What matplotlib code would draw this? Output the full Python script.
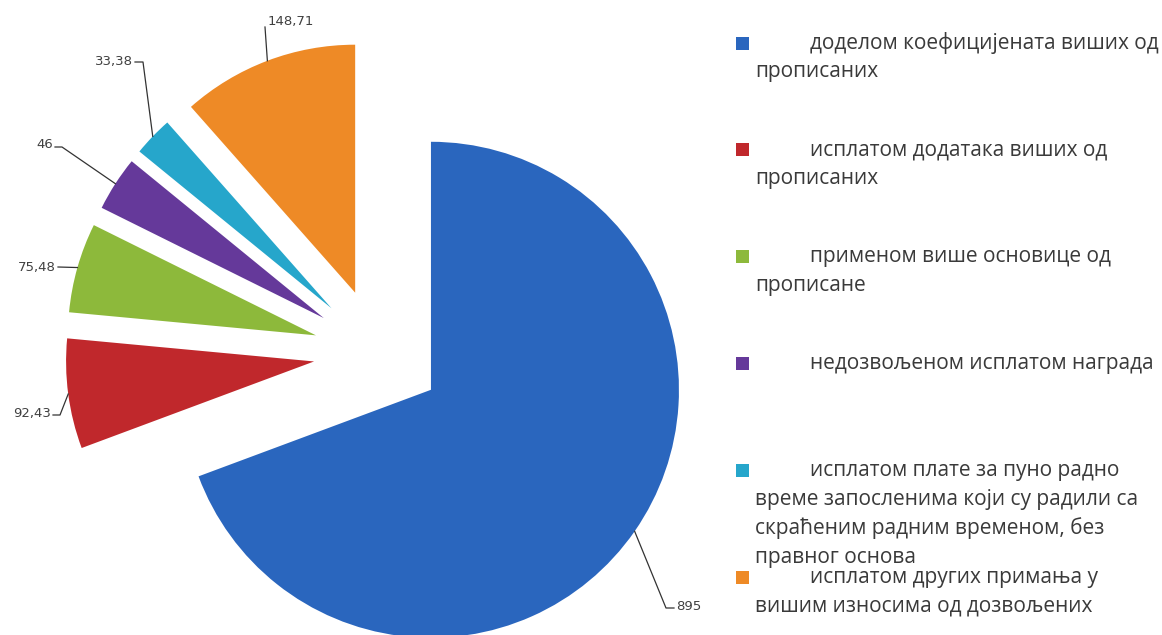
import matplotlib.pyplot as plt
from matplotlib.patches import Rectangle
import numpy as np

# vrednosti po vrstama nepravilnosti (redosled kao na slici, u smeru kazaljke)
vrednosti = [895, 92.43, 75.48, 46, 33.38, 148.71]
boje = ['#2a66be', '#c0282c', '#8db93b', '#65399a', '#26a6cb', '#ee8a26']
kategorije = [
    "доделом коефицијената виших од\nпрописаних",
    "исплатом додатака виших од\nпрописаних",
    "применом више основице од\nпрописане",
    "недозвољеном исплатом награда",
    "исплатом плате за пуно радно\nвреме запосленима који су радили са\nскраћеним радним временом, без\nправног основа",
    "исплатом других примања у\nвишим износима од дозвољених",
]

W, H = 1162, 635
fig = plt.figure(figsize=(W / 100, H / 100), dpi=100)
ax = fig.add_axes([0, 0, 1, 1])

# pita u "pikselskim" koordinatama, y ide odozdo
centar = (378, H - 353)
poluprecnik = 248
# explode je u apsolutnim jedinicama, ne u delovima poluprecnika
wedges, _ = ax.pie(vrednosti, colors=boje, startangle=90, counterclock=False,
                   explode=[0.26 * poluprecnik] * len(vrednosti), radius=poluprecnik,
                   center=centar, wedgeprops=dict(linewidth=0))
ax.set_xlim(0, W)
ax.set_ylim(0, H)
ax.set_aspect('equal')
ax.axis('off')

# krajevi linija za oznake (lakat, kraj linije, polozaj teksta) u pikselima
lakat = [(666, 608), (60, 415), (58, 267), (62, 147), (143, 62), (265, 27)]
kraj = [(674, 608), (53, 415), (58, 267), (55, 147), (135, 62), (265, 27)]
tekst_poz = [(676, 606, 'left'), (51, 414, 'right'), (56, 267, 'right'),
             (53, 145, 'right'), (133, 62, 'right'), (268, 22, 'left')]

for w, v, l, k, t in zip(wedges, vrednosti, lakat, kraj, tekst_poz):
    ugao = np.deg2rad((w.theta1 + w.theta2) / 2)
    x0 = w.center[0] + w.r * np.cos(ugao)
    y0 = w.center[1] + w.r * np.sin(ugao)
    ax.plot([x0, l[0], k[0]], [y0, H - l[1], H - k[1]], color='#333333', lw=0.9)
    ax.text(t[0], H - t[1], f"{v:g}".replace('.', ','), ha=t[2], va='center',
            fontsize=9.5, color='#404040', family=['DejaVu Sans'])

# legenda rucno, kao u originalu (prvi red uvucen)
for i, (lab, c) in enumerate(zip(kategorije, boje)):
    y = 43 + 106.8 * i
    ax.add_patch(Rectangle((736, H - y - 6.5), 13, 13, color=c, lw=0))
    redovi = lab.split('\n')
    for j, red in enumerate(redovi):
        x = 810 if j == 0 else 755
        ax.text(x, H - (y + 29 * j), red, ha='left', va='center', fontsize=15,
                color='#3a3a3a', family=['Open Sans', 'DejaVu Sans'])

fig.savefig('out.png', dpi=100)
